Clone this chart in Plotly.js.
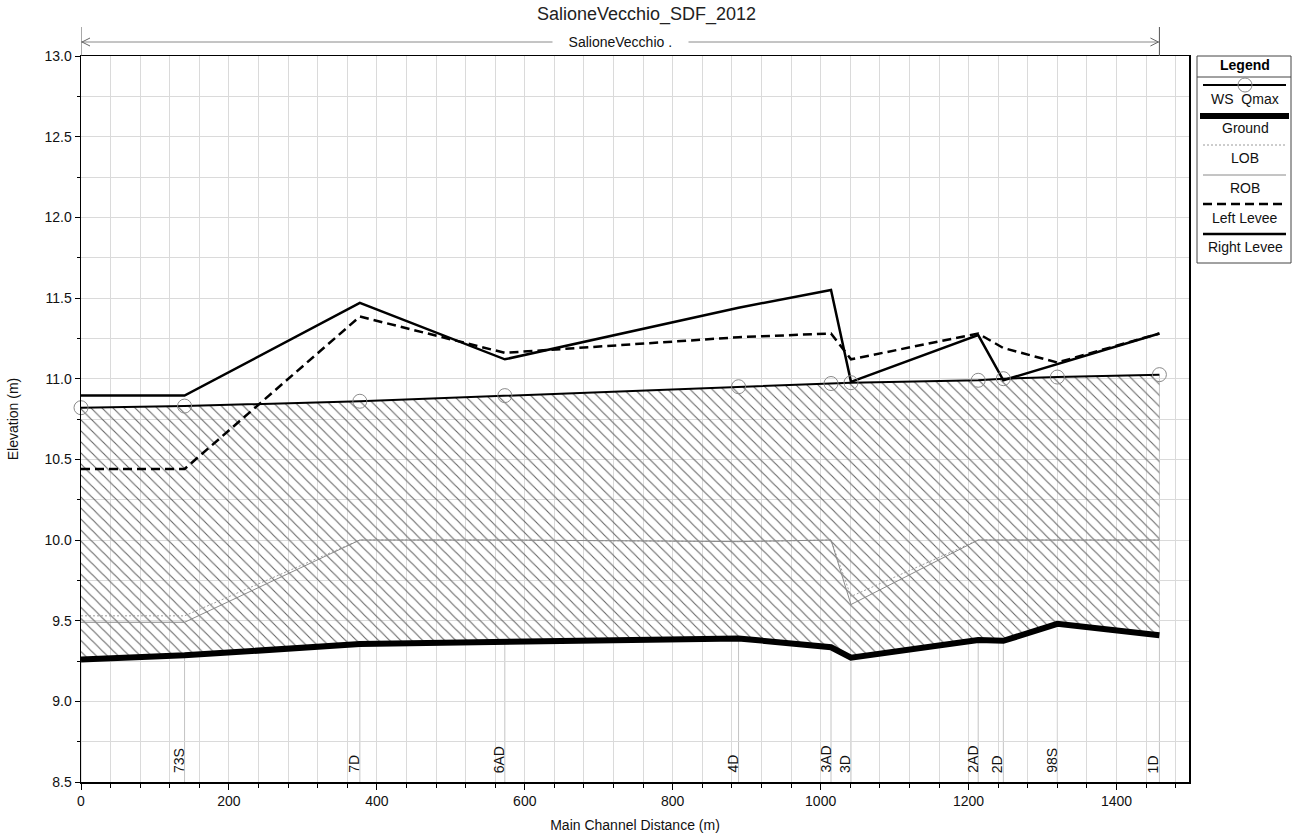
<!DOCTYPE html>
<html>
<head>
<meta charset="utf-8">
<script src="https://cdn.plot.ly/plotly-3.0.1.min.js"></script>
<style>
  html, body { margin: 0; padding: 0; background: #fff; }
  #chart { width: 1293px; height: 838px; }
</style>
</head>
<body>
<div id="chart"></div>
<script>
// Longitudinal profile of the SalioneVecchio reach (plan SDF_2012)

// Main channel distance of each cross section (m)
const stationDist = [0, 140, 377, 573, 889, 1014, 1041, 1213, 1247, 1320, 1458];
const stationName = ['', '73S', '7D', '6AD', '4D', '3AD', '3D', '2AD', '2D', '98S', '1D'];

// Elevations at each cross section (m)
const wsQmax     = [10.82, 10.83, 10.86, 10.895, 10.95, 10.97, 10.975, 10.99, 11.00, 11.01, 11.025];
const ground     = [9.26, 9.285, 9.355, 9.37, 9.39, 9.335, 9.27, 9.38, 9.375, 9.48, 9.41];
const lob        = [9.53, 9.53, 10.00, 10.00, 9.99, 10.00, 9.65, 10.00, 10.00, 10.00, 10.00];
const rob        = [9.49, 9.49, 10.00, 10.00, 9.99, 10.00, 9.60, 10.00, 10.00, 10.00, 10.00];
const leftLevee  = [10.44, 10.44, 11.385, 11.16, 11.257, 11.28, 11.12, 11.28, 11.19, 11.10, 11.28];
const rightLevee = [10.895, 10.895, 11.47, 11.12, 11.44, 11.55, 10.98, 11.27, 10.99, 11.09, 11.28];

const reachName = 'SalioneVecchio .';
const chartTitle = 'SalioneVecchio_SDF_2012';
const legendTitle = 'Legend';
const legendNames = ['WS\u00a0 Qmax', 'Ground', 'LOB', 'ROB', 'Left Levee', 'Right Levee'];

// Line styles shared by the plotted series and the legend samples
const styles = {
  ws:    { color: '#000', width: 2 },
  ground:{ color: '#000', width: 6 },
  lob:   { color: '#9a9a9a', width: 1, dash: '2px,2px' },
  rob:   { color: '#8a8a8a', width: 1 },
  left:  { color: '#000', width: 2.5, dash: '9px,5px' },
  right: { color: '#000', width: 2.5 }
};
const legendStyles = [styles.ws, styles.ground, styles.lob, styles.rob, styles.left, styles.right];

const FONT = 'Arial, "Liberation Sans", Helvetica, sans-serif';
const W = 1293, H = 838;
const M = { l: 81, r: 104, t: 56, b: 56 };
const plotW = W - M.l - M.r, plotH = H - M.t - M.b;
const xp = px => (px - M.l) / plotW;           // page pixel -> paper x
const yp = py => (H - M.b - py) / plotH;       // page pixel -> paper y

const traces = [];

// Hatched region between channel bed and water surface
traces.push({
  x: stationDist, y: ground, mode: 'lines', line: { width: 0 },
  hoverinfo: 'skip', showlegend: false
});
traces.push({
  x: stationDist, y: wsQmax, mode: 'lines', line: { width: 0 },
  fill: 'tonexty', fillcolor: 'rgba(255,255,255,0)',
  fillpattern: { shape: '\\', size: 7.8, solidity: 0.14, fgcolor: '#666666', bgcolor: 'rgba(255,255,255,0)' },
  hoverinfo: 'skip', showlegend: false
});

function lineTrace(y, st, name) {
  return { x: stationDist, y: y, mode: 'lines', name: name, line: Object.assign({}, st), showlegend: false };
}
traces.push(lineTrace(lob, styles.lob, 'LOB'));
traces.push(lineTrace(rob, styles.rob, 'ROB'));
traces.push(lineTrace(ground, styles.ground, 'Ground'));
traces.push(lineTrace(leftLevee, styles.left, 'Left Levee'));
traces.push(lineTrace(rightLevee, styles.right, 'Right Levee'));
traces.push({
  x: stationDist, y: wsQmax, mode: 'lines+markers', name: 'WS Qmax',
  line: Object.assign({}, styles.ws),
  marker: { symbol: 'circle-open', size: 14, color: '#8a8a8a', line: { width: 1 } },
  cliponaxis: false, showlegend: false
});

const shapes = [];
const annotations = [];

// Cross-section lines (below the bed; the last one closes the reach) and their labels
const lastIdx = stationDist.length - 1;
stationDist.forEach((d, i) => {
  shapes.push({
    type: 'line', xref: 'x', yref: 'y', x0: d, x1: d, y0: 8.5,
    y1: i === lastIdx ? wsQmax[i] : ground[i],
    line: { color: '#c4c4c4', width: 1 }, layer: 'below'
  });
  if (stationName[i]) {
    annotations.push({
      xref: 'x', yref: 'y', x: d, y: 8.5, text: stationName[i], showarrow: false,
      textangle: -90, xanchor: 'center', yanchor: 'bottom', xshift: -6, yshift: 7,
      font: { family: FONT, size: 14, color: '#111' }
    });
  }
});

// Reach extent marker above the plot
const x0r = stationDist[0], x1r = stationDist[lastIdx];
const yArrow = yp(42);
shapes.push({ type: 'line', xref: 'x', yref: 'paper', x0: x0r, x1: x1r, y0: yArrow, y1: yArrow,
  line: { color: '#8a8a8a', width: 1 } });
[x0r, x1r].forEach(xx => {
  shapes.push({ type: 'line', xref: 'x', yref: 'paper', x0: xx, x1: xx, y0: 1, y1: yp(27),
    line: { color: '#555', width: 1 } });
});
shapes.push({ type: 'path', xref: 'x', yref: 'paper', xsizemode: 'pixel', ysizemode: 'pixel',
  xanchor: x0r, yanchor: yArrow, path: 'M9,4L1,0L9,-4', line: { color: '#666', width: 1 } });
shapes.push({ type: 'path', xref: 'x', yref: 'paper', xsizemode: 'pixel', ysizemode: 'pixel',
  xanchor: x1r, yanchor: yArrow, path: 'M-9,4L-1,0L-9,-4', line: { color: '#666', width: 1 } });
annotations.push({
  xref: 'x', yref: 'paper', x: (x0r + x1r) / 2, y: yArrow, showarrow: false,
  text: '\u00a0\u00a0\u00a0\u00a0' + reachName + '\u00a0\u00a0\u00a0\u00a0',
  bgcolor: '#fff', borderpad: 0, xanchor: 'center', yanchor: 'middle',
  font: { family: FONT, size: 14, color: '#111' }
});

// Legend panel
const LG = { left: 1197, right: 1291, top: 56, bottom: 263, head: 65, sep: 77,
  sampleY: [85, 116, 145, 175, 204, 234], textY: [99, 128, 158, 188, 218, 247],
  sx0: 1203, sx1: 1286, cx: 1245 };
shapes.push({ type: 'rect', xref: 'paper', yref: 'paper',
  x0: xp(LG.left), x1: xp(LG.right), y0: yp(LG.bottom), y1: yp(LG.top),
  line: { color: '#444', width: 1 }, fillcolor: '#fff' });
shapes.push({ type: 'line', xref: 'paper', yref: 'paper',
  x0: xp(LG.left), x1: xp(LG.right), y0: yp(LG.sep), y1: yp(LG.sep),
  line: { color: '#444', width: 1 } });
annotations.push({ xref: 'paper', yref: 'paper', x: xp(LG.cx), y: yp(LG.head),
  text: '<b>' + legendTitle + '</b>', showarrow: false, xanchor: 'center', yanchor: 'middle',
  font: { family: FONT, size: 14, color: '#000' } });
legendNames.forEach((nm, i) => {
  const st = legendStyles[i];
  const wide = st.width >= 5;
  shapes.push({ type: 'line', xref: 'paper', yref: 'paper',
    x0: xp(wide ? LG.sx0 - 3 : LG.sx0), x1: xp(wide ? LG.sx1 + 3 : LG.sx1),
    y0: yp(LG.sampleY[i]), y1: yp(LG.sampleY[i]),
    line: Object.assign({}, st) });
  annotations.push({ xref: 'paper', yref: 'paper', x: xp(LG.cx), y: yp(LG.textY[i]),
    text: nm, showarrow: false, xanchor: 'center', yanchor: 'middle',
    font: { family: FONT, size: 14, color: '#111' } });
});
// WS marker in its legend sample
shapes.push({ type: 'circle', xref: 'paper', yref: 'paper',
  x0: xp(LG.cx - 7), x1: xp(LG.cx + 7), y0: yp(LG.sampleY[0] + 7), y1: yp(LG.sampleY[0] - 7),
  line: { color: '#8a8a8a', width: 1 } });

const gridColor = '#dadada';
const layout = {
  width: W, height: H,
  margin: M,
  paper_bgcolor: '#fff', plot_bgcolor: '#fff',
  font: { family: FONT, size: 14, color: '#111' },
  showlegend: false,
  title: {
    text: chartTitle, xref: 'container', x: 0.5, y: 1 - 14 / H, yanchor: 'middle',
    font: { family: FONT, size: 18, color: '#222' }
  },
  xaxis: {
    range: [0, 1498], dtick: 200, tick0: 0,
    showgrid: true, gridcolor: gridColor, gridwidth: 1,
    ticks: 'outside', ticklen: 6, tickcolor: '#000', tickwidth: 1,
    minor: { dtick: 40, showgrid: true, gridcolor: gridColor, gridwidth: 1, ticks: 'outside', ticklen: 4, tickcolor: '#000' },
    showline: true, linecolor: '#000', linewidth: 1.5, mirror: true, zeroline: false,
    tickfont: { family: FONT, size: 14, color: '#111' },
    title: { text: 'Main Channel Distance (m)', standoff: 12, font: { family: FONT, size: 14, color: '#111' } }
  },
  yaxis: {
    range: [8.5, 13.0], dtick: 0.5, tick0: 8.5, tickformat: '.1f',
    showgrid: true, gridcolor: gridColor, gridwidth: 1,
    ticks: 'outside', ticklen: 5, tickcolor: '#000', tickwidth: 1,
    minor: { dtick: 0.25, showgrid: true, gridcolor: gridColor, gridwidth: 1, ticks: 'outside', ticklen: 3, tickcolor: '#000' },
    showline: true, linecolor: '#000', linewidth: 1.5, mirror: true, zeroline: false,
    tickfont: { family: FONT, size: 14, color: '#111' },
    title: { text: 'Elevation (m)', standoff: 22, font: { family: FONT, size: 14, color: '#111' } }
  },
  shapes: shapes,
  annotations: annotations
};

Plotly.newPlot('chart', traces, layout, { displayModeBar: false, staticPlot: true });
</script>
</body>
</html>
